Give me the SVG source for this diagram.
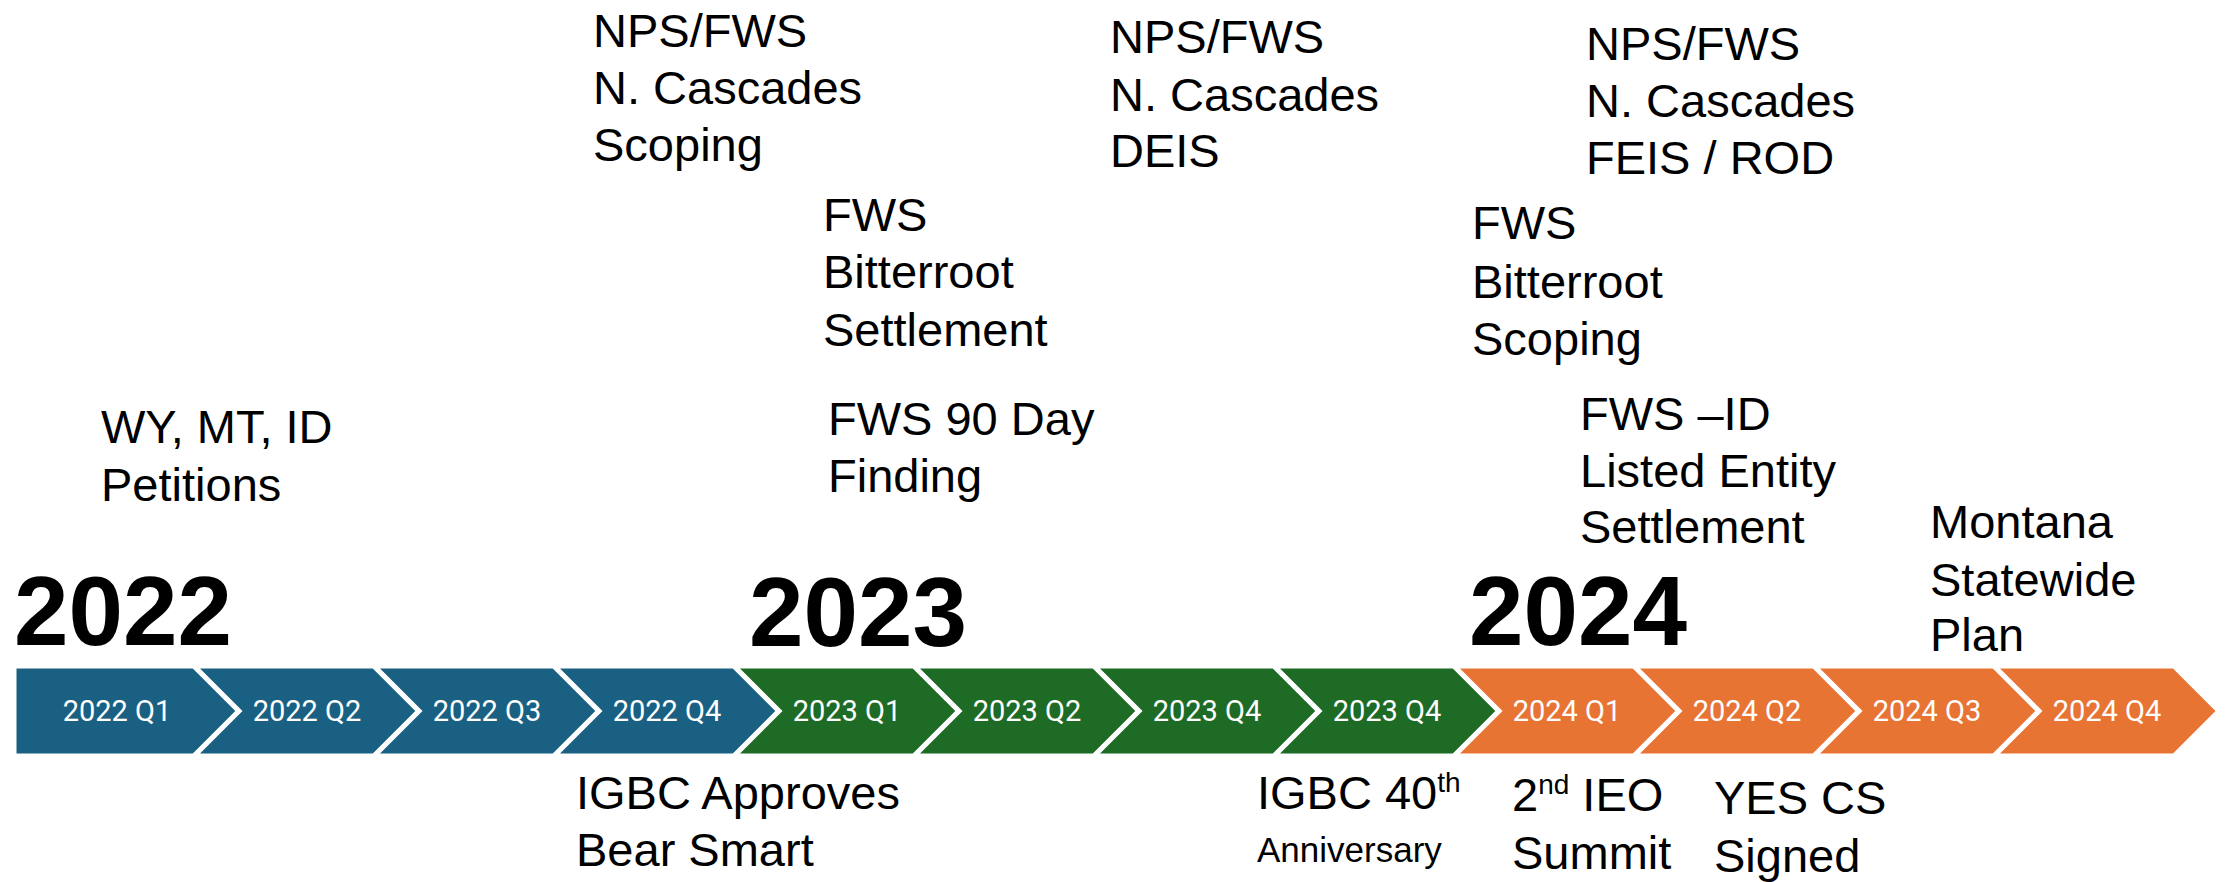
<svg xmlns="http://www.w3.org/2000/svg" width="2234" height="882" viewBox="0 0 2234 882">
<style>
.chev{stroke:#ffffff;stroke-width:5;stroke-linejoin:miter}
.b{fill:#1A6082}.g{fill:#1D6B25}.o{fill:#E87434}
.q{font-family:Roboto,"Liberation Sans",sans-serif;font-size:29px;fill:#ffffff;text-anchor:middle}
.t{font-family:"Liberation Sans",Arial,sans-serif;font-size:47px;fill:#000000}
.sm{font-size:35px}
.sup{font-size:28px}
.yr{font-family:"Liberation Sans",Arial,sans-serif;font-size:98px;font-weight:bold;fill:#000000}
</style>
<rect width="2234" height="882" fill="#ffffff"/>
<g id="timeline">
<g id="q2022-1"><polygon class="chev b" points="14,666 194,666 239,711 194,756 14,756"/><text class="q" x="117" y="721">2022 Q1</text></g>
<g id="q2022-2"><polygon class="chev b" points="194,666 374,666 419,711 374,756 194,756 239,711"/><text class="q" x="307" y="721">2022 Q2</text></g>
<g id="q2022-3"><polygon class="chev b" points="374,666 554,666 599,711 554,756 374,756 419,711"/><text class="q" x="487" y="721">2022 Q3</text></g>
<g id="q2022-4"><polygon class="chev b" points="554,666 734,666 779,711 734,756 554,756 599,711"/><text class="q" x="667" y="721">2022 Q4</text></g>
<g id="q2023-1"><polygon class="chev g" points="734,666 914,666 959,711 914,756 734,756 779,711"/><text class="q" x="847" y="721">2023 Q1</text></g>
<g id="q2023-2"><polygon class="chev g" points="914,666 1094,666 1139,711 1094,756 914,756 959,711"/><text class="q" x="1027" y="721">2023 Q2</text></g>
<g id="q2023-3"><polygon class="chev g" points="1094,666 1274,666 1319,711 1274,756 1094,756 1139,711"/><text class="q" x="1207" y="721">2023 Q4</text></g>
<g id="q2023-4"><polygon class="chev g" points="1274,666 1454,666 1499,711 1454,756 1274,756 1319,711"/><text class="q" x="1387" y="721">2023 Q4</text></g>
<g id="q2024-1"><polygon class="chev o" points="1454,666 1634,666 1679,711 1634,756 1454,756 1499,711"/><text class="q" x="1567" y="721">2024 Q1</text></g>
<g id="q2024-2"><polygon class="chev o" points="1634,666 1814,666 1859,711 1814,756 1634,756 1679,711"/><text class="q" x="1747" y="721">2024 Q2</text></g>
<g id="q2024-3"><polygon class="chev o" points="1814,666 1994,666 2039,711 1994,756 1814,756 1859,711"/><text class="q" x="1927" y="721">2024 Q3</text></g>
<g id="q2024-4"><polygon class="chev o" points="1994,666 2174,666 2219,711 2174,756 1994,756 2039,711"/><text class="q" x="2107" y="721">2024 Q4</text></g>
</g>
<g id="years">
<text class="yr" x="14" y="645">2022</text>
<text class="yr" x="749" y="646">2023</text>
<text class="yr" x="1469" y="645">2024</text>
</g>
<g id="connectors"></g>
<g id="ev-petitions"><text class="t" x="101" y="443"><tspan x="101">WY, MT, ID</tspan><tspan x="101" y="501">Petitions</tspan></text></g>
<g id="ev-ncasc-scoping"><text class="t" x="593" y="47"><tspan x="593">NPS/FWS</tspan><tspan x="593" y="104">N. Cascades</tspan><tspan x="593" y="161">Scoping</tspan></text></g>
<g id="ev-bitterroot-settlement"><text class="t" x="823" y="231"><tspan x="823">FWS</tspan><tspan x="823" y="288">Bitterroot</tspan><tspan x="823" y="346">Settlement</tspan></text></g>
<g id="ev-90day"><text class="t" x="828" y="435"><tspan x="828">FWS 90 Day</tspan><tspan x="828" y="492">Finding</tspan></text></g>
<g id="ev-deis"><text class="t" x="1110" y="53"><tspan x="1110">NPS/FWS</tspan><tspan x="1110" y="111">N. Cascades</tspan><tspan x="1110" y="167">DEIS</tspan></text></g>
<g id="ev-feis"><text class="t" x="1586" y="60"><tspan x="1586">NPS/FWS</tspan><tspan x="1586" y="117">N. Cascades</tspan><tspan x="1586" y="174">FEIS / ROD</tspan></text></g>
<g id="ev-bitterroot-scoping"><text class="t" x="1472" y="239"><tspan x="1472">FWS</tspan><tspan x="1472" y="298">Bitterroot</tspan><tspan x="1472" y="355">Scoping</tspan></text></g>
<g id="ev-id-settlement"><text class="t" x="1580" y="430"><tspan x="1580">FWS –ID</tspan><tspan x="1580" y="487">Listed Entity</tspan><tspan x="1580" y="543">Settlement</tspan></text></g>
<g id="ev-montana"><text class="t" x="1930" y="538"><tspan x="1930">Montana</tspan><tspan x="1930" y="596">Statewide</tspan><tspan x="1930" y="651">Plan</tspan></text></g>
<g id="ev-bearsmart"><text class="t" x="576" y="809"><tspan x="576">IGBC Approves</tspan><tspan x="576" y="866">Bear Smart</tspan></text></g>
<g id="ev-igbc40"><text class="t" x="1257" y="809">IGBC 40<tspan class="sup" dy="-17">th</tspan></text><text class="t sm" x="1257" y="862">Anniversary</text></g>
<g id="ev-ieo"><text class="t" x="1512" y="811">2<tspan class="sup" dy="-17">nd</tspan><tspan dy="17"> IEO</tspan></text><text class="t" x="1512" y="869">Summit</text></g>
<g id="ev-yes"><text class="t" x="1714" y="814"><tspan x="1714">YES CS</tspan><tspan x="1714" y="872">Signed</tspan></text></g>
</svg>
